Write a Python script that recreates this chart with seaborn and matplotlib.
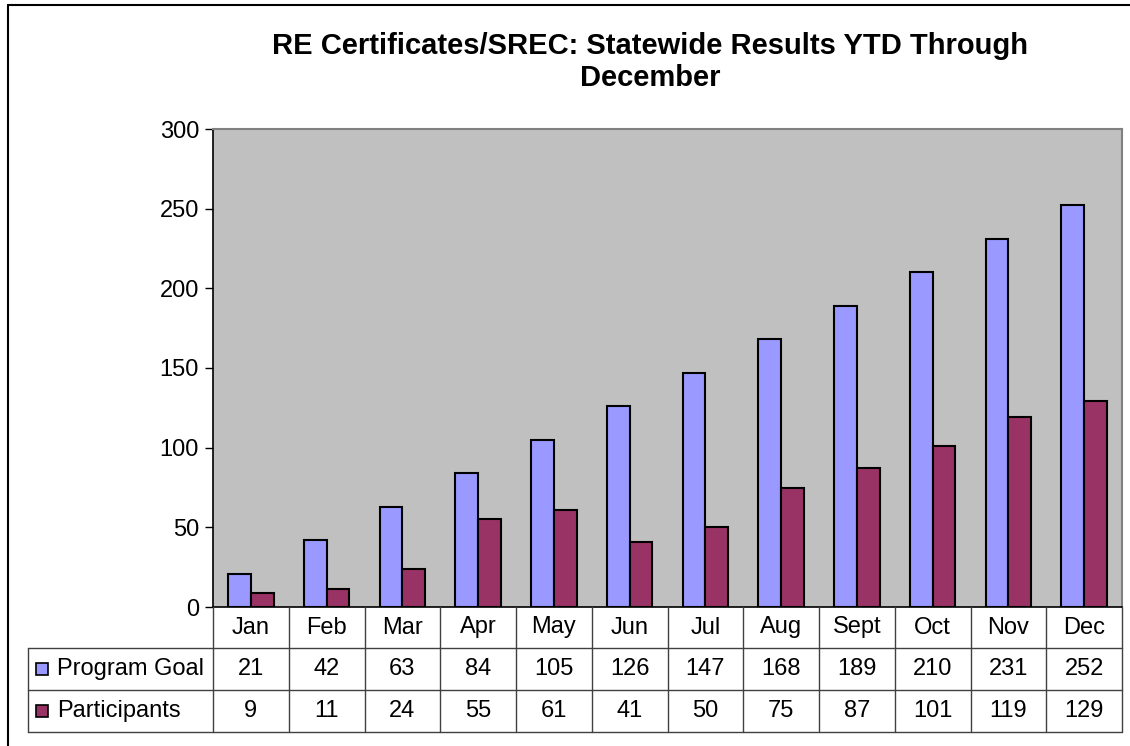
import matplotlib
matplotlib.use("Agg")
import matplotlib.pyplot as plt
import seaborn as sns
import pandas as pd
from matplotlib.patches import Rectangle
from matplotlib.lines import Line2D

months = ["Jan", "Feb", "Mar", "Apr", "May", "Jun", "Jul", "Aug", "Sept", "Oct", "Nov", "Dec"]
program_goal = [21, 42, 63, 84, 105, 126, 147, 168, 189, 210, 231, 252]
participants = [9, 11, 24, 55, 61, 41, 50, 75, 87, 101, 119, 129]
series_names = ["Program Goal", "Participants"]
colors = ["#9999FF", "#993366"]
title = "RE Certificates/SREC: Statewide Results YTD Through\nDecember"
yticks = [0, 50, 100, 150, 200, 250, 300]

df = pd.DataFrame({
    "month": months * 2,
    "value": program_goal + participants,
    "series": [series_names[0]] * 12 + [series_names[1]] * 12,
})

sns.set_style("white")
plt.rcParams["font.family"] = ["Liberation Sans", "DejaVu Sans"]
plt.rcParams["text.color"] = "black"
plt.rcParams["ytick.color"] = "black"
plt.rcParams["ytick.labelcolor"] = "black"

FS = 17
W, H = 1130, 746
fig = plt.figure(figsize=(W / 100, H / 100), dpi=100)
ax_l, ax_r, ax_t, ax_b = 213, 1122, 129, 607
ax = fig.add_axes([ax_l / W, 1 - ax_b / H, (ax_r - ax_l) / W, (ax_b - ax_t) / H])
ax.set_facecolor("#C0C0C0")

sns.barplot(data=df, x="month", y="value", hue="series", order=months,
            hue_order=series_names, palette=colors, width=0.6, dodge=True,
            edgecolor="black", linewidth=1.5, ax=ax, legend=False, saturation=1)

ax.set_xlim(-0.5, 11.5)
ax.set_ylim(0, 300)
ax.set_yticks(yticks)
ax.set_yticklabels([str(t) for t in yticks], fontsize=FS, color="black")
ax.set_xticks([])
ax.set_xlabel("")
ax.set_ylabel("")
ax.tick_params(axis="y", length=6, width=1, color="black", left=True, pad=4)
for side in ["top", "right"]:
    ax.spines[side].set_color("#808080")
    ax.spines[side].set_linewidth(1.5)
ax.spines["left"].set_color("black")
ax.spines["left"].set_linewidth(1.2)
ax.spines["bottom"].set_color("black")
ax.spines["bottom"].set_linewidth(1.2)

fig.text(650 / W, 1 - 62 / H, title, ha="center", va="center", fontsize=21,
         fontweight="bold", linespacing=1.2, color="black")

# Data table below the axes, in figure pixel coordinates
def fx(px):
    return px / W

def fy(py):
    return 1 - py / H

row_edges = [607, 648, 690, 732]
table_left = 28
col_w = (ax_r - ax_l) / 12
col_edges = [ax_l + i * col_w for i in range(13)]
lw = 1.0
lc = "#404040"

def hline(x0, x1, y):
    fig.add_artist(Line2D([fx(x0), fx(x1)], [fy(y), fy(y)], color=lc, lw=lw))

def vline(x, y0, y1):
    fig.add_artist(Line2D([fx(x), fx(x)], [fy(y0), fy(y1)], color=lc, lw=lw))

hline(table_left, ax_r, row_edges[1])
hline(table_left, ax_r, row_edges[2])
hline(table_left, ax_r, row_edges[3])
vline(table_left, row_edges[1], row_edges[3])
for x in col_edges:
    vline(x, row_edges[0], row_edges[3])

for i, m in enumerate(months):
    cx = col_edges[i] + col_w / 2
    fig.text(fx(cx), fy((row_edges[0] + row_edges[1]) / 2), m, ha="center", va="center", fontsize=FS)
    fig.text(fx(cx), fy((row_edges[1] + row_edges[2]) / 2), str(program_goal[i]), ha="center", va="center", fontsize=FS)
    fig.text(fx(cx), fy((row_edges[2] + row_edges[3]) / 2), str(participants[i]), ha="center", va="center", fontsize=FS)

for r, (name, col) in enumerate(zip(series_names, colors)):
    cy = (row_edges[r + 1] + row_edges[r + 2]) / 2
    sq = 12
    fig.add_artist(Rectangle((fx(36), fy(cy + sq / 2)), sq / W, sq / H,
                             facecolor=col, edgecolor="black", lw=1.2))
    fig.text(fx(57), fy(cy), name, ha="left", va="center", fontsize=FS)

# Outer frame
fig.add_artist(Line2D([fx(8), fx(8)], [fy(5), fy(746)], color="black", lw=1.5))
fig.add_artist(Line2D([fx(8), fx(1130)], [fy(5), fy(5)], color="black", lw=1.5))

fig.savefig("out.png", dpi=100, facecolor="white")
